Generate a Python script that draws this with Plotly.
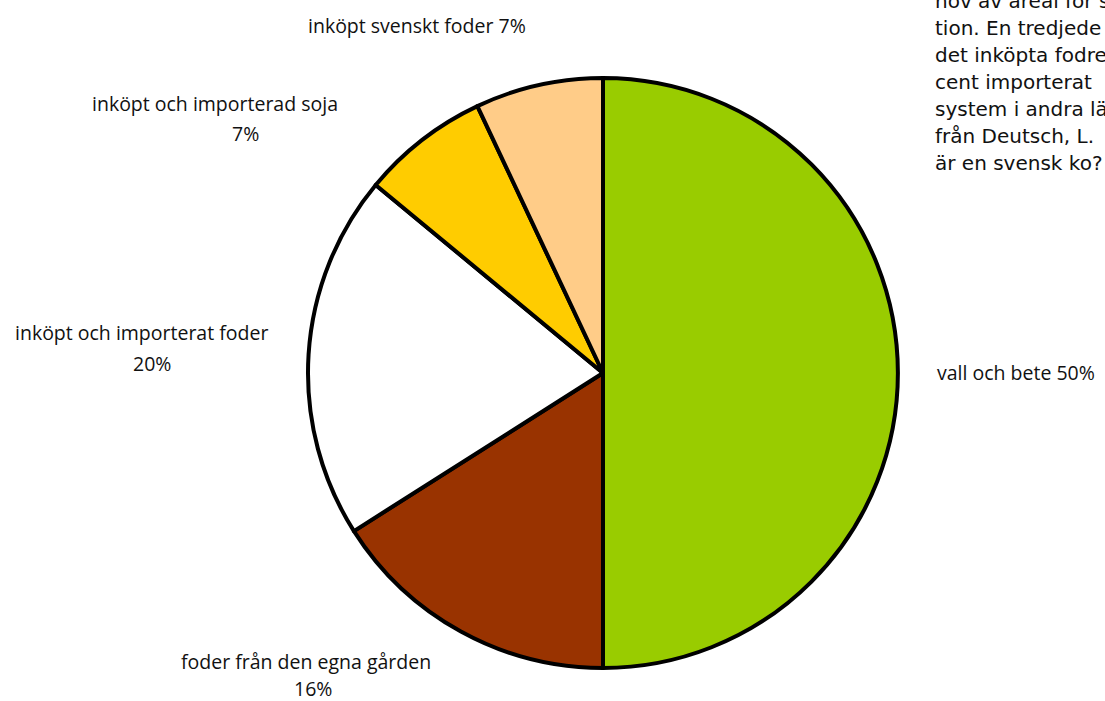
import plotly.graph_objects as go

categories = ["vall och bete", "foder från den egna gården", "inköpt och importerat foder",
              "inköpt och importerad soja", "inköpt svenskt foder"]
values = [50, 16, 20, 7, 7]
colors = ["#99CC00", "#993300", "#FFFFFF", "#FFCC00", "#FFCC88"]

# label text lines per category (first line, second line)
label_lines = [
    ["vall och bete 50%"],
    ["foder från den egna gården", "16%"],
    ["inköpt och importerat foder", "20%"],
    ["inköpt och importerad soja", "7%"],
    ["inköpt svenskt foder 7%"],
]
# pixel positions (center x, center y) for each line
label_pos = [
    [(1016, 372)],
    [(306, 661), (313, 688)],
    [(141, 332), (152, 363)],
    [(215, 104), (246, 133)],
    [(417, 26)],
]

paragraph = [
    "hov av areal för s",
    "tion. En tredjede",
    "det inköpta fodre",
    "cent importerat",
    "system i andra lä",
    "från Deutsch, L.",
    "är en svensk ko?",
]

W, H = 1105, 701

fig = go.Figure(go.Pie(
    labels=categories,
    values=values,
    sort=False,
    direction="clockwise",
    rotation=0,
    marker=dict(colors=colors, line=dict(color="#000000", width=4)),
    textinfo="none",
    hoverinfo="label+percent",
    domain=dict(x=[(603 - 295) / W, (603 + 295) / W], y=[1 - 668 / H, 1 - 78 / H]),
    showlegend=False,
))

annotations = []
for lines, poss in zip(label_lines, label_pos):
    for t, (px, py) in zip(lines, poss):
        annotations.append(dict(
            x=px / W, y=1 - py / H, xref="paper", yref="paper",
            text=t, showarrow=False, xanchor="center", yanchor="middle",
            font=dict(family="Open Sans", size=19.5, color="#111111"),
        ))

for i, t in enumerate(paragraph):
    py = 1 + 27 * i
    annotations.append(dict(
        x=933 / W, y=1 - py / H, xref="paper", yref="paper",
        text=t, showarrow=False, xanchor="left", yanchor="middle",
        font=dict(family="DejaVu Sans", size=20, color="#111111"),
    ))

fig.update_layout(
    width=W, height=H,
    margin=dict(l=0, r=0, t=0, b=0),
    paper_bgcolor="white",
    plot_bgcolor="white",
    annotations=annotations,
)

fig.write_html("out.html")
